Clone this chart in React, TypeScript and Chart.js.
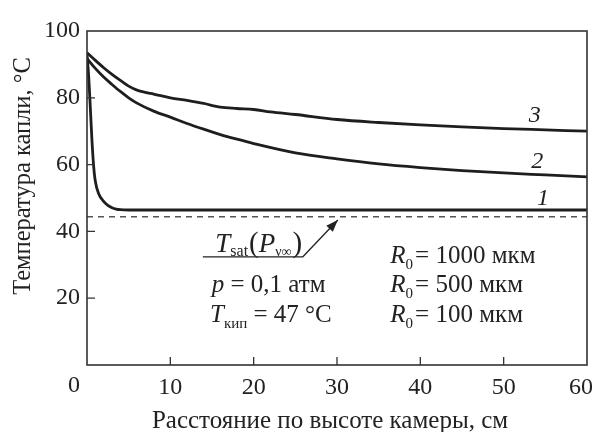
import React, { useEffect, useRef } from "react";
import { Chart, registerables } from "chart.js";
Chart.register(...registerables);

// ---- data ----
const xTickValues = [0, 10, 20, 30, 40, 50, 60];
const yTickValues = [0, 20, 40, 60, 80, 100];

const curve3X = [0, 1, 2, 3, 4, 5, 6, 7, 8, 10, 12, 14, 16, 18, 20, 22, 25, 30, 35, 40, 45, 50, 55, 60];
const curve3Y = [93.5, 91.2, 89.0, 87.0, 85.2, 83.5, 82.3, 81.6, 81.1, 80.0, 79.2, 78.3, 77.2, 76.8, 76.5, 75.8, 75.0, 73.5, 72.6, 71.9, 71.3, 70.8, 70.4, 70.0];

const curve2X = [0, 1, 2, 3, 4, 5, 6, 8, 10, 12, 14, 16, 18, 20, 25, 30, 35, 40, 45, 50, 55, 60];
const curve2Y = [91.8, 88.8, 86.2, 84.0, 81.9, 80.0, 78.4, 76.0, 74.2, 72.3, 70.6, 69.0, 67.6, 66.3, 63.5, 61.7, 60.2, 59.1, 58.2, 57.5, 56.9, 56.3];

const curve1X = [0, 0.2, 0.4, 0.6, 0.8, 1.0, 1.4, 2, 2.5, 3, 3.5, 4, 5, 10, 60];
const curve1Y = [93.0, 86.5, 77.0, 67.0, 59.5, 55.0, 51.3, 49.0, 47.8, 47.1, 46.7, 46.5, 46.4, 46.4, 46.4];

const tSatX = [0, 60];
const tSatY = [44.4, 44.4];

const xTitle = "Расстояние по высоте камеры, см";
const yTitle = "Температура капли, °C";
const curveLabels = ["3", "2", "1"];
const radiusLabels = ["1000 мкм", "500 мкм", "100 мкм"];

const SERIF = "'Liberation Serif', 'DejaVu Serif', serif";

const toPts = (xs: number[], ys: number[]) => xs.map((x, i) => ({ x, y: ys[i] }));

type Part = { t: string; italic?: boolean; size: number; dy?: number; gap?: number };

function drawRich(ctx: CanvasRenderingContext2D, x: number, y: number, parts: Part[]) {
  let cx = x;
  for (const p of parts) {
    ctx.font = `${p.italic ? "italic " : ""}${p.size}px ${SERIF}`;
    ctx.fillText(p.t, cx, y + (p.dy || 0));
    cx += ctx.measureText(p.t).width + (p.gap || 0);
  }
}

const decorPlugin = {
  id: "decor",
  afterDraw(chart: any) {
    const { ctx, chartArea: a, scales } = chart;
    const xs = scales.x;
    const ys = scales.y;
    const px = (v: number) => xs.getPixelForValue(v);
    const py = (v: number) => ys.getPixelForValue(v);
    ctx.save();
    // frame
    ctx.strokeStyle = "#333";
    ctx.lineWidth = 1.6;
    ctx.strokeRect(a.left, a.top, a.right - a.left, a.bottom - a.top);
    // inward ticks
    ctx.lineWidth = 1.3;
    ctx.beginPath();
    for (const v of xTickValues) {
      if (v === 0 || v === 60) continue;
      ctx.moveTo(px(v), a.bottom);
      ctx.lineTo(px(v), a.bottom - 8);
    }
    for (const v of yTickValues) {
      if (v === 0 || v === 100) continue;
      ctx.moveTo(a.left, py(v));
      ctx.lineTo(a.left + 8, py(v));
    }
    ctx.stroke();

    ctx.fillStyle = "#222";
    // origin label and last x label (shifted inward as in the original)
    ctx.font = `24px ${SERIF}`;
    ctx.textAlign = "center";
    ctx.textBaseline = "middle";
    ctx.fillText(String(xTickValues[0]), a.left - 13, a.bottom + 21);
    let lastY = a.bottom + 21;
    let lastBase: CanvasTextBaseline = "middle";
    try {
      const items = xs.getLabelItems(a);
      const it = items.find((d: any) => d.label === "50");
      if (it) {
        lastY = it.options.translation[1] + (it.textOffset || 0);
        lastBase = it.options.textBaseline;
      }
    } catch (e) {}
    ctx.textBaseline = lastBase;
    ctx.fillText(String(xTickValues[xTickValues.length - 1]), px(60) - 6, lastY);

    // axis titles
    ctx.textBaseline = "middle";
    ctx.font = `25px ${SERIF}`;
    ctx.fillText(xTitle, 330, 421);
    ctx.save();
    ctx.translate(24, 176);
    ctx.rotate(-Math.PI / 2);
    ctx.font = `24.5px ${SERIF}`;
    ctx.fillText(yTitle, 0, 0);
    ctx.restore();

    // curve numbers
    ctx.textAlign = "left";
    ctx.textBaseline = "alphabetic";
    ctx.font = `italic 24px ${SERIF}`;
    ctx.fillText(curveLabels[0], px(53.0), py(72.8));
    ctx.fillText(curveLabels[1], px(53.3), py(59.0));
    ctx.fillText(curveLabels[2], px(54.0), py(47.9));

    // T_sat annotation
    drawRich(ctx, px(15.4), py(33.8), [
      { t: "T", italic: true, size: 27 },
      { t: "sat", size: 16, dy: 4, gap: 1 },
      { t: "(", size: 29 },
      { t: "P", italic: true, size: 27 },
      { t: "ν∞", size: 14, dy: 4, gap: 1 },
      { t: ")", size: 29 },
    ]);
    // leader line with arrow
    const x0 = px(13.9), yL = py(32.4), x1 = px(25.9);
    const tx = px(30.1), ty = py(43.4);
    ctx.strokeStyle = "#222";
    ctx.lineWidth = 1.3;
    ctx.beginPath();
    ctx.moveTo(x0, yL);
    ctx.lineTo(x1, yL);
    ctx.lineTo(tx, ty);
    ctx.stroke();
    const ang = Math.atan2(ty - yL, tx - x1);
    const L = 12, W = 4.5;
    ctx.beginPath();
    ctx.moveTo(tx, ty);
    ctx.lineTo(tx - L * Math.cos(ang) + W * Math.sin(ang), ty - L * Math.sin(ang) - W * Math.cos(ang));
    ctx.lineTo(tx - L * Math.cos(ang) - W * Math.sin(ang), ty - L * Math.sin(ang) + W * Math.cos(ang));
    ctx.closePath();
    ctx.fill();

    // conditions
    drawRich(ctx, px(14.96), py(21.8), [
      { t: "p", italic: true, size: 25 },
      { t: " = 0,1 атм", size: 25 },
    ]);
    drawRich(ctx, px(14.76), py(13.0), [
      { t: "T", italic: true, size: 25 },
      { t: "кип", size: 15, dy: 6 },
      { t: " = 47 °C", size: 25 },
    ]);
    const rBase = [30.5, 21.8, 13.0];
    radiusLabels.forEach((lab, i) => {
      drawRich(ctx, px(36.4), py(rBase[i]), [
        { t: "R", italic: true, size: 25 },
        { t: "0", size: 15, dy: 6, gap: 2 },
        { t: "= " + lab, size: 25 },
      ]);
    });
    ctx.restore();
  },
};

export default function App() {
  const ref = useRef<HTMLCanvasElement>(null);
  useEffect(() => {
    if (!ref.current) return;
    const lineStyle = {
      borderColor: "#1e1e1e",
      borderWidth: 2.8,
      pointRadius: 0,
      cubicInterpolationMode: "monotone" as const,
      fill: false,
    };
    const chart = new Chart(ref.current, {
      type: "line",
      data: {
        datasets: [
          { label: "R0 = 1000", data: toPts(curve3X, curve3Y), ...lineStyle },
          { label: "R0 = 500", data: toPts(curve2X, curve2Y), ...lineStyle },
          { label: "R0 = 100", data: toPts(curve1X, curve1Y), ...lineStyle },
          {
            label: "Tsat",
            data: toPts(tSatX, tSatY),
            borderColor: "#555",
            borderWidth: 1.5,
            borderDash: [6, 5],
            pointRadius: 0,
            fill: false,
          },
        ],
      },
      options: {
        responsive: false,
        animation: false,
        events: [],
        layout: { padding: { left: 0, right: 9, top: 31, bottom: 0 } },
        plugins: { legend: { display: false }, tooltip: { enabled: false } },
        scales: {
          x: {
            type: "linear",
            min: 0,
            max: 60,
            grid: { display: false, drawTicks: false },
            border: { display: false },
            ticks: {
              stepSize: 10,
              padding: 8,
              color: "#222",
              font: { family: SERIF, size: 24 },
              callback: (v: any) => (v === 0 || v === 60 ? "" : String(v)),
            },
            afterFit: (s: any) => {
              s.height = 67;
              s.paddingLeft = 0;
              s.paddingRight = 0;
            },
          },
          y: {
            type: "linear",
            min: 0,
            max: 100,
            grid: { display: false, drawTicks: false },
            border: { display: false },
            ticks: {
              stepSize: 20,
              padding: 7,
              color: "#222",
              font: { family: SERIF, size: 24 },
              callback: (v: any) => (v === 0 ? "" : String(v)),
            },
            afterFit: (s: any) => {
              s.width = 87;
              s.paddingTop = 0;
              s.paddingBottom = 0;
            },
          },
        },
      },
      plugins: [decorPlugin],
    });
    return () => chart.destroy();
  }, []);
  return (
    <div style={{ position: "absolute", left: 0, top: 0, width: 596, height: 432, background: "#fff" }}>
      <canvas ref={ref} width={596} height={432} />
    </div>
  );
}
